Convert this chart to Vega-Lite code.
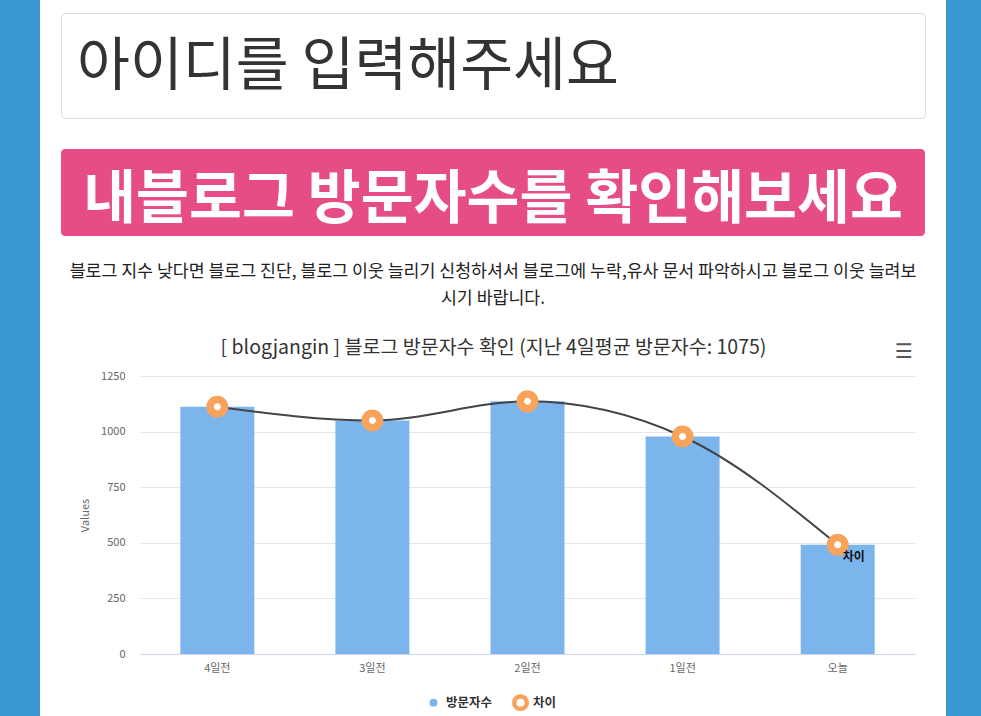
{
  "$schema": "https://vega.github.io/schema/vega-lite/v6.json",
  "background": "white",
  "padding": 0,
  "spacing": 20,
  "config": {
    "view": {"stroke": null},
    "font": "Noto Sans CJK KR"
  },
  "resolve": {"scale": {"fill": "independent", "stroke": "independent"}, "legend": {"fill": "independent", "stroke": "independent"}},
  "hconcat": [
    {
      "width": 40, "height": 716,
      "view": {"fill": "#3c97d5", "stroke": null},
      "data": {"values": []},
      "mark": "point"
    },
    {
      "spacing": 0,
      "bounds": "flush",
      "resolve": {"scale": {"fill": "independent", "stroke": "independent"}, "legend": {"fill": "independent", "stroke": "independent"}},
      "vconcat": [
        {"width": 864, "height": 13, "data": {"values": []}, "mark": "point"},
        {
          "width": 864, "height": 105,
          "view": {"stroke": "#dcdcdc", "strokeWidth": 1, "cornerRadius": 4, "fill": "white"},
          "data": {"values": [{"label": "아이디를 입력해주세요"}]},
          "mark": {"type": "text", "align": "left", "baseline": "middle", "fontSize": 57.5, "color": "#333333", "dx": 16, "dy": 2},
          "encoding": {
            "text": {"field": "label"},
            "x": {"datum": 0, "type": "quantitative", "scale": {"domain": [0, 1]}, "axis": null}
          }
        },
        {"width": 864, "height": 31, "data": {"values": []}, "mark": "point"},
        {
          "width": 864, "height": 87,
          "view": {"fill": "#e64d86", "stroke": null, "cornerRadius": 4},
          "data": {"values": [{"label": "내블로그 방문자수를 확인해보세요"}]},
          "mark": {"type": "text", "align": "center", "baseline": "middle", "fontSize": 57.5, "fontWeight": "bold", "color": "#ffffff", "dy": 8},
          "encoding": {"text": {"field": "label"}}
        },
        {
          "width": 864, "height": 140,
          "data": {"values": [{"label": ["블로그 지수 낮다면 블로그 진단, 블로그 이웃 늘리기 신청하셔서 블로그에 누락,유사 문서 파악하시고 블로그 이웃 늘려보", "시기 바랍니다."], "icon": "☰"}]},
          "layer": [
            {
              "mark": {"type": "text", "align": "center", "baseline": "middle", "fontSize": 17.3, "lineHeight": 27, "color": "#222222", "dy": -34.5},
              "encoding": {"text": {"field": "label"}}
            },
            {
              "mark": {"type": "text", "align": "center", "baseline": "middle", "fontSize": 20, "font": "DejaVu Sans", "fontWeight": "bold", "color": "#555555", "dx": 411, "dy": 46},
              "encoding": {"text": {"field": "icon"}}
            }
          ]
        },
        {
          "spacing": 0,
          "bounds": "flush",
          "resolve": {"scale": {"fill": "independent", "stroke": "independent"}, "legend": {"fill": "independent", "stroke": "independent"}},
          "hconcat": [
            {"width": 79, "height": 10, "data": {"values": []}, "mark": "point"},
            {
              "width": 775, "height": 278,
              "title": {"text": "[ blogjangin ] 블로그 방문자수 확인 (지난 4일평균 방문자수: 1075)", "fontSize": 19.5, "fontWeight": "normal", "color": "#333333", "offset": 11.5, "dx": -34},
              "data": {"values": [
                {"day": "4일전", "visits": 1112},
                {"day": "3일전", "visits": 1050},
                {"day": "2일전", "visits": 1136},
                {"day": "1일전", "visits": 978},
                {"day": "오늘", "visits": 491}
              ]},
              "encoding": {
                "x": {
                  "field": "day", "type": "nominal", "sort": null,
                  "scale": {"paddingInner": 0.523, "paddingOuter": 0.26},
                  "axis": {"title": null, "labelAngle": 0, "labelColor": "#666666", "labelFontSize": 11, "ticks": false, "domainColor": "#ccd6eb", "labelPadding": 8, "grid": false}
                }
              },
              "layer": [
                {
                  "mark": {"type": "bar", "strokeWidth": 0},
                  "encoding": {
                    "y": {
                      "field": "visits", "type": "quantitative",
                      "scale": {"domain": [0, 1250], "nice": false},
                      "axis": {"values": [0, 250, 500, 750, 1000, 1250], "format": "d", "title": "Values", "titleFontSize": 11, "titleFontWeight": "normal", "titleColor": "#666666", "titlePadding": 10, "labelColor": "#666666", "labelFontSize": 11, "labelPadding": 15, "ticks": false, "domain": false, "gridColor": "#e6e6e6"}
                    },
                    "fill": {
                      "datum": "방문자수", "type": "nominal",
                      "scale": {"domain": ["방문자수", "차이"], "range": ["#7cb5ec", "#ffffff"]},
                      "legend": {"title": null, "orient": "none", "legendX": 285, "legendY": 318, "direction": "horizontal", "symbolSize": 156, "symbolStrokeWidth": 4.5, "labelFontSize": 12.5, "labelFontWeight": "bold", "labelColor": "#333333", "columnPadding": 12}
                    },
                    "stroke": {
                      "datum": "방문자수", "type": "nominal",
                      "scale": {"domain": ["방문자수", "차이"], "range": ["#ffffff", "#f7a35c"]},
                      "legend": {"title": null, "orient": "none", "legendX": 285, "legendY": 318, "direction": "horizontal", "symbolSize": 156, "symbolStrokeWidth": 4.5, "labelFontSize": 12.5, "labelFontWeight": "bold", "labelColor": "#333333", "columnPadding": 12}
                    }
                  }
                },
                {
                  "mark": {"type": "line", "interpolate": "monotone", "color": "#434348", "strokeWidth": 2},
                  "encoding": {"y": {"field": "visits", "type": "quantitative"}}
                },
                {
                  "mark": {"type": "point", "filled": true, "size": 210, "strokeWidth": 7.5, "opacity": 1},
                  "encoding": {
                    "y": {"field": "visits", "type": "quantitative"},
                    "fill": {"datum": "차이", "type": "nominal"},
                    "stroke": {"datum": "차이", "type": "nominal"}
                  }
                },
                {
                  "transform": [{"filter": "datum.day == '오늘'"}],
                  "mark": {"type": "text", "dx": 16, "dy": 12, "fontWeight": "bold", "fontSize": 12, "color": "#111111"},
                  "encoding": {"y": {"field": "visits", "type": "quantitative"}, "text": {"value": "차이"}}
                }
              ]
            }
          ]
        }
      ]
    },
    {
      "width": 37, "height": 716,
      "view": {"fill": "#3c97d5", "stroke": null},
      "data": {"values": []},
      "mark": "point"
    }
  ]
}
